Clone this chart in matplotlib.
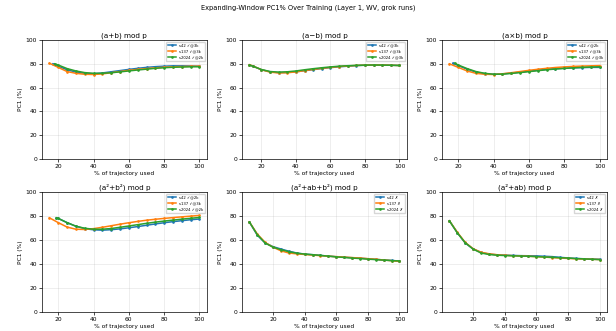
import numpy as np
import matplotlib
matplotlib.use("Agg")
import matplotlib.pyplot as plt

# --- data (PC1 % vs % of trajectory used) ---
tasks = ["(a+b) mod p", "(a\u2212b) mod p", "(a\u00d7b) mod p",
         "(a\u00b2+b\u00b2) mod p", "(a\u00b2+ab+b\u00b2) mod p", "(a\u00b2+ab) mod p"]
seeds = ["s42", "s137", "s2024"]
colors = ["#1f77b4", "#ff7f0e", "#2ca02c"]

grid5 = [20, 25, 30, 35, 40, 45, 50, 55, 60, 65, 70, 75, 80, 85, 90, 95, 100]
full5 = [5, 10, 15] + grid5

# (a+b)
add_x = [[17] + grid5, [15] + grid5, [18] + grid5]
add_y = [
    [80, 78, 75, 73, 72, 71.7, 72.3, 73.3, 74.3, 75.3, 76.2, 77, 77.6, 78, 78.3, 78.3, 78.2, 78],
    [80.5, 77, 73.5, 72, 71.2, 71, 71.5, 72.5, 73.5, 74.5, 75.3, 76, 76.6, 77.1, 77.5, 77.7, 77.9, 78],
    [80, 79, 76, 74, 72.6, 72, 72, 72.5, 73.2, 74, 74.8, 75.5, 76.2, 76.7, 77.1, 77.3, 77.5, 77.5],
]
# (a-b)
sub_x = [[13, 15] + grid5, [13, 15] + grid5, [13, 15] + grid5]
sub_y = [
    [79, 78, 75, 73.3, 72.6, 72.7, 73.3, 74.2, 75.1, 76, 76.8, 77.5, 78, 78.5, 78.8, 79, 79, 78.8, 78.6],
    [79.3, 78.2, 75, 73, 72.3, 72.5, 73.2, 74.3, 75.3, 76.2, 77, 77.7, 78.2, 78.6, 78.9, 79, 79, 78.8, 78.6],
    [79, 78, 75.2, 73.5, 73, 73.3, 74, 75, 75.9, 76.7, 77.4, 78, 78.4, 78.7, 78.9, 79, 78.9, 78.8, 78.6],
]
# (a*b)
mul_x = [[17] + grid5, [15] + grid5, [18] + grid5]
mul_y = [
    [80.5, 78.5, 75.5, 73, 71.7, 71.2, 71.5, 72.2, 73, 73.8, 74.6, 75.3, 75.9, 76.3, 76.6, 76.8, 77, 77],
    [80, 77, 74, 72, 71.2, 71, 71.6, 72.5, 73.5, 74.5, 75.4, 76.2, 76.9, 77.4, 77.8, 78.1, 78.3, 78.5],
    [80.5, 79, 76, 73.5, 72, 71.2, 71.3, 71.9, 72.6, 73.4, 74.2, 75, 75.6, 76.1, 76.6, 77, 77.3, 77.5],
]
# (a^2+b^2)
sq_x = [[19] + grid5, [15] + grid5, [19] + grid5]
sq_y = [
    [78.5, 78, 74.5, 71.5, 69.5, 68.5, 68.2, 68.6, 69.3, 70.2, 71.2, 72.3, 73.4, 74.4, 75.3, 76.1, 76.9, 77.5],
    [78.5, 74.5, 70.8, 69, 68.8, 69.5, 70.6, 71.9, 73.2, 74.4, 75.5, 76.5, 77.3, 78, 78.7, 79.3, 79.9, 80.5],
    [78.5, 78, 74.5, 71.5, 69.8, 69, 69, 69.6, 70.6, 71.7, 72.8, 73.9, 74.9, 75.8, 76.6, 77.4, 78.1, 78.8],
]
# (a^2+ab+b^2)
quad_x = [full5, full5, full5]
quad_y = [
    [75, 64, 57.5, 54.5, 52.5, 50.7, 49.2, 48.3, 47.8, 47.2, 46.6, 46.1, 45.7, 45.3, 44.9, 44.4, 43.9, 43.4, 43, 42.5],
    [75, 65, 58, 54, 51, 49.2, 48.5, 48, 47.5, 47, 46.5, 46.2, 45.8, 45.4, 45, 44.5, 44, 43.4, 42.8, 42.2],
    [75, 64.5, 57.5, 54, 52, 50.3, 49, 48.3, 47.8, 47.2, 46.6, 46, 45.5, 45, 44.6, 44.1, 43.7, 43.3, 42.9, 42.6],
]
# (a^2+ab)
sqab_x = [full5, full5, full5]
sqab_y = [
    [76, 66, 57.5, 52.5, 49.8, 48.3, 47.7, 47.4, 47.2, 47, 46.9, 46.8, 46.5, 46.2, 45.6, 45.1, 44.7, 44.4, 44.2, 44],
    [76, 66.5, 58, 52.8, 49.8, 48.6, 47.8, 47.3, 47, 46.8, 46.5, 46.2, 45.8, 45.4, 45, 44.7, 44.4, 44.2, 44, 43.8],
    [76, 66, 57.8, 52.5, 49.2, 48, 47.4, 47.1, 46.9, 46.7, 46.5, 46.2, 45.9, 45.6, 45.3, 45, 44.6, 44.3, 44, 43.7],
]

all_x = [add_x, sub_x, mul_x, sq_x, quad_x, sqab_x]
all_y = [add_y, sub_y, mul_y, sq_y, quad_y, sqab_y]
grok_tags = [
    ["\u2713@3k", "\u2713@3k", "\u2713@2k"],
    ["\u2713@3k", "\u2713@3k", "\u2713@3k"],
    ["\u2713@2k", "\u2713@3k", "\u2713@3k"],
    ["\u2713@2k", "\u2713@3k", "\u2713@2k"],
    ["\u2717", "\u2717", "\u2717"],
    ["\u2717", "\u2717", "\u2717"],
]

fig = plt.figure(figsize=(6.16, 3.31), dpi=100)
left0, w, step = 0.068, 0.268, 0.3247
rows = [(0.520, 0.359), (0.057, 0.363)]

for i, task in enumerate(tasks):
    r, c = divmod(i, 3)
    bottom, h = rows[r]
    ax = fig.add_axes([left0 + c * step, bottom, w, h])
    for s in range(3):
        ax.plot(all_x[i][s], all_y[i][s], color=colors[s], lw=1.1, marker="o",
                markersize=0.9, label=f"{seeds[s]} {grok_tags[i][s]}")
    ax.set_ylim(0, 100)
    ax.set_yticks([0, 20, 40, 60, 80, 100])
    ax.set_xticks([20, 40, 60, 80, 100])
    ax.set_title(task, fontsize=5.2, pad=2)
    ax.set_ylabel("PC1 (%)", fontsize=4.2, labelpad=2)
    ax.set_xlabel("% of trajectory used", fontsize=4.2, labelpad=1.5)
    ax.tick_params(labelsize=4.3, length=2, width=0.5, pad=1.5)
    for sp in ax.spines.values():
        sp.set_linewidth(0.5)
    ax.grid(True, alpha=0.3, lw=0.5)
    ax.legend(fontsize=2.7, loc="upper right", handlelength=2.2, borderpad=0.5,
              labelspacing=0.5, framealpha=0.8)

fig.suptitle("Expanding-Window PC1% Over Training (Layer 1, WV, grok runs)",
             fontsize=4.8, y=0.985)
fig.savefig("out.png", dpi=100)
